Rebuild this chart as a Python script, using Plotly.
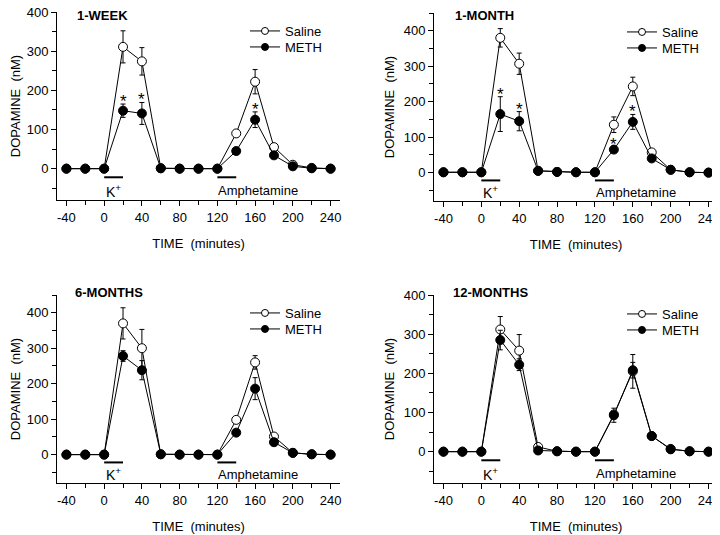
import plotly.graph_objects as go

# ---------------- data ----------------
times = [-40, -20, 0, 20, 40, 60, 80, 100, 120, 140, 160, 180, 200, 220, 240]

panel_titles = ["1-WEEK", "1-MONTH", "6-MONTHS", "12-MONTHS"]
series_names = ["Saline", "METH"]

saline_1w = [0, 0, 0, 311, 274, 1, 0, 0, 0, 90, 222, 55, 10, 2, 0]
saline_1w_err = [0, 0, 0, 41, 35, 0, 0, 0, 0, 6, 31, 5, 3, 0, 0]
meth_1w = [0, 0, 0, 148, 141, 1, 0, 0, 0, 45, 125, 34, 6, 1, 0]
meth_1w_err = [0, 0, 0, 17, 28, 0, 0, 0, 0, 5, 20, 4, 2, 0, 0]

saline_1m = [1, 1, 1, 380, 307, 5, 2, 1, 1, 135, 243, 57, 8, 1, 0]
saline_1m_err = [0, 0, 0, 26, 30, 0, 0, 0, 0, 22, 26, 5, 2, 0, 0]
meth_1m = [1, 1, 1, 165, 145, 5, 2, 1, 1, 65, 143, 40, 8, 1, 0]
meth_1m_err = [0, 0, 0, 49, 27, 0, 0, 0, 0, 8, 21, 4, 2, 0, 0]

saline_6m = [0, 0, 0, 370, 300, 1, 0, 0, 0, 98, 260, 51, 5, 1, 0]
saline_6m_err = [0, 0, 0, 44, 53, 0, 0, 0, 0, 6, 19, 5, 2, 0, 0]
meth_6m = [0, 0, 0, 278, 238, 1, 0, 0, 0, 62, 186, 35, 5, 1, 0]
meth_6m_err = [0, 0, 0, 15, 27, 0, 0, 0, 0, 5, 31, 4, 2, 0, 0]

saline_12m = [0, 0, 0, 312, 258, 12, 1, 0, 0, 95, 205, 40, 7, 1, 0]
saline_12m_err = [0, 0, 0, 33, 41, 3, 0, 0, 0, 10, 43, 4, 2, 0, 0]
meth_12m = [0, 0, 0, 285, 222, 3, 1, 0, 0, 93, 208, 40, 6, 1, 0]
meth_12m_err = [0, 0, 0, 25, 15, 0, 0, 0, 0, 18, 20, 4, 2, 0, 0]

# significance markers (times where METH differs from Saline)
stars_1w = [20, 40, 160]
stars_1m = [20, 40, 140, 160]
stars_6m = []
stars_12m = []

y_max = [400, 450, 450, 400]

x_tick_vals = [-40, 0, 40, 80, 120, 160, 200, 240]
x_tick_text = ["-40", "0", "40", "80", "120", "160", "200", "240"]
y_tick_vals = [0, 100, 200, 300, 400]
y_tick_text = ["0", "100", "200", "300", "400"]

k_window = [0, 20]
amph_window = [120, 140]

series = [
    (saline_1w, saline_1w_err, meth_1w, meth_1w_err, stars_1w),
    (saline_1m, saline_1m_err, meth_1m, meth_1m_err, stars_1m),
    (saline_6m, saline_6m_err, meth_6m, meth_6m_err, stars_6m),
    (saline_12m, saline_12m_err, meth_12m, meth_12m_err, stars_12m),
]

# ---------------- layout geometry (pixels, page coordinates) ----------------
W, H = 720, 535
OFF = 8  # page body margin of the browser
FONT = "Liberation Sans, Arial, sans-serif"
# left, right, top, bottom of each plot area in px
boxes = [(57, 340, 12, 200), (434, 718, 13, 201), (57, 340, 295, 483), (434, 718, 295, 483)]
legend_pos = [(245, 16), (622, 17), (245, 298), (622, 299)]
legend_row = 16
title_pos = [(75, 15), (453, 15), (73, 292), (451, 292)]


def px(x):
    return (x - OFF) / W


def py(y):
    return 1 - (y - OFF) / H


fig = go.Figure()
layout = dict(
    width=W, height=H,
    margin=dict(l=0, r=0, t=0, b=0, autoexpand=False),
    paper_bgcolor="white", plot_bgcolor="white",
    font=dict(family=FONT, size=13, color="black"),
    showlegend=True,
)
annotations = []
shapes = []
fills = ["white", "black"]

for i, (sal, sal_err, meth, meth_err, stars) in enumerate(series):
    n = "" if i == 0 else str(i + 1)
    xa, ya = "x" + n, "y" + n
    l, r, t, b = boxes[i]

    for j, (vals, errs) in enumerate([(sal, sal_err), (meth, meth_err)]):
        fig.add_trace(go.Scatter(
            x=times, y=vals, xaxis=xa, yaxis=ya, mode="lines+markers",
            line=dict(color="black", width=1),
            marker=dict(size=9, color=fills[j], line=dict(color="black", width=1)),
            error_y=dict(type="data", array=errs, color="black", thickness=1, width=2.5),
            showlegend=False, cliponaxis=False))

    for j in range(2):
        leg_id = 2 * i + j
        leg = "legend" if leg_id == 0 else "legend" + str(leg_id + 1)
        fig.add_trace(go.Scatter(
            x=[None], y=[None], xaxis=xa, yaxis=ya, mode="lines+markers",
            name=series_names[j],
            line=dict(color="black", width=1),
            marker=dict(size=7, color=fills[j], line=dict(color="black", width=1)),
            legend=leg))
        lx, ly = legend_pos[i]
        layout[leg] = dict(x=px(lx), y=py(ly + j * legend_row),
                           xanchor="left", yanchor="top",
                           bgcolor="rgba(0,0,0,0)", font=dict(size=13, family=FONT),
                           itemwidth=30)

    axis_common = dict(showline=True, linecolor="black", linewidth=1, ticks="outside",
                       ticklen=5, tickwidth=1, tickcolor="black", showgrid=False,
                       zeroline=False, automargin=False, ticklabeloverflow="allow",
                       tickfont=dict(size=13, family=FONT))
    layout["xaxis" + n] = dict(
        axis_common, domain=[px(l), px(r)], anchor=ya, range=[-50, 250],
        tickmode="array", tickvals=x_tick_vals, ticktext=x_tick_text,
        minor=dict(dtick=20, tick0=0, ticks="outside", ticklen=4, tickcolor="black"),
        title=dict(text="TIME  (minutes)", standoff=15, font=dict(size=13)))
    layout["yaxis" + n] = dict(
        axis_common, domain=[py(b), py(t)], anchor=xa, range=[-80, y_max[i]],
        tickmode="array", tickvals=y_tick_vals, ticktext=y_tick_text,
        minor=dict(dtick=50, tick0=0, ticks="outside", ticklen=4, tickcolor="black"),
        title=dict(text="DOPAMINE  (nM)", standoff=6, font=dict(size=13)))

    tx, ty = title_pos[i]
    annotations.append(dict(text="<b>" + panel_titles[i] + "</b>", x=px(tx), y=py(ty),
                            xref="paper", yref="paper", xanchor="left", yanchor="middle",
                            showarrow=False, font=dict(size=13, family=FONT)))

    for win in (k_window, amph_window):
        shapes.append(dict(type="line", xref=xa, yref=ya, x0=win[0], x1=win[1],
                           y0=-22, y1=-22, line=dict(color="black", width=2)))
    annotations.append(dict(text="K<sup>+</sup>", x=(k_window[0] + k_window[1]) / 2, y=-56,
                            xref=xa, yref=ya, xanchor="center", yanchor="middle",
                            showarrow=False, font=dict(size=14, family=FONT)))
    annotations.append(dict(text="Amphetamine", x=amph_window[0] - 1, y=-56,
                            xref=xa, yref=ya, xanchor="left", yanchor="middle",
                            showarrow=False, font=dict(size=13, family=FONT)))

    for st in stars:
        k = times.index(st)
        annotations.append(dict(text="*", x=st, y=meth[k] + meth_err[k],
                                xref=xa, yref=ya, xanchor="center", yanchor="bottom",
                                yshift=-9, showarrow=False, font=dict(size=17, family=FONT)))

layout["annotations"] = annotations
layout["shapes"] = shapes
fig.update_layout(**layout)
fig.write_html("out.html")
